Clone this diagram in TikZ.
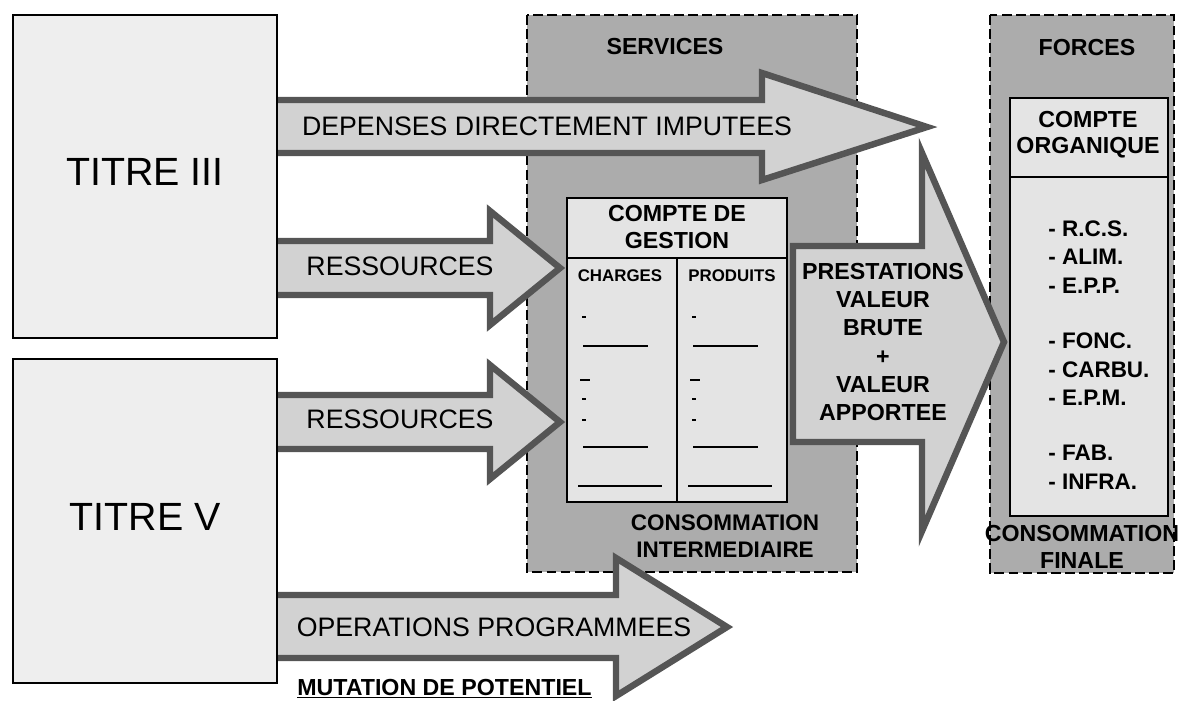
\documentclass[tikz,border=0pt]{standalone}
\usepackage{fontspec}
\setmainfont{Liberation Sans}
\definecolor{zonegray}{RGB}{172,172,172}
\definecolor{arrowgray}{RGB}{210,210,210}
\definecolor{edgegray}{RGB}{85,85,85}
\definecolor{titregray}{RGB}{238,238,238}
\definecolor{comptegray}{RGB}{228,228,228}
\usepackage{tikz}
\usetikzlibrary{positioning}

\begin{document}
\begin{tikzpicture}[
  x=0.025cm, y=-0.025cm,
  zone/.style={draw, dash pattern=on 7pt off 3pt, line width=0.9pt, fill=zonegray},
  bigarrow/.style={draw=edgegray, line width=4.6pt, fill=arrowgray, line join=miter},
  titrebox/.style={draw, line width=1.2pt, fill=titregray},
  comptebox/.style={draw, line width=1.4pt, fill=comptegray},
  arrowlabel/.style={font=\fontsize{19}{23}\selectfont, inner sep=0pt},
  boldlabel/.style={font=\fontsize{16.5}{19.5}\selectfont\bfseries, align=center, inner sep=0pt},
  itemlabel/.style={font=\fontsize{16}{20.3}\selectfont\bfseries, align=left, inner sep=0pt},
  ledger/.style={line width=0.9pt}
]
  \useasboundingbox (0,0) rectangle (1178,700);

  % services and forces zones
  \draw[zone] (527,15) rectangle (857,572);
  \draw[zone] (990,15) rectangle (1174,573);

  % flows
  \draw[bigarrow] (270,100) -- (762,100) -- (762,73) -- (927,127) -- (762,180) -- (762,153) -- (270,153) -- cycle;
  \draw[bigarrow] (270,241) -- (490,241) -- (490,211) -- (560,268) -- (490,325) -- (490,295) -- (270,295) -- cycle;
  \draw[bigarrow] (270,395) -- (490,395) -- (490,365) -- (560,422) -- (490,479) -- (490,449) -- (270,449) -- cycle;
  \draw[bigarrow] (270,595) -- (616,595) -- (616,558) -- (727,627) -- (616,696) -- (616,658) -- (270,658) -- cycle;
  \draw[bigarrow] (793,246) -- (922,246) -- (922,153) -- (1004,342) -- (922,531) -- (922,442) -- (793,442) -- cycle;

  % credits
  \draw[titrebox] (13,15) rectangle (277,338);
  \draw[titrebox] (13,359) rectangle (277,683);
  \node[font=\fontsize{28}{32}\selectfont, inner sep=0pt] (titre3) at (145,172) {TITRE III};
  \node[font=\fontsize{28}{32}\selectfont, inner sep=0pt] (titre5) at (145,517) {TITRE V};

  % compte de gestion
  \draw[comptebox] (567,198) rectangle (787,502);
  \draw[line width=1.4pt] (567,258) -- (787,258);
  \draw[line width=1.4pt] (677,258) -- (677,502);
  \node[boldlabel] (gestion) at (677,227) {COMPTE DE\\GESTION};
  \node[boldlabel, font=\fontsize{12}{14}\selectfont\bfseries] (charges) at (620,276) {CHARGES};
  \node[boldlabel, font=\fontsize{12}{14}\selectfont\bfseries] (produits) at (732,276) {PRODUITS};
  \foreach \dx in {0,110} {
    \draw[ledger] (582+\dx,317) -- ++(4,0);
    \draw[ledger] (583+\dx,346) -- ++(65,0);
    \draw[ledger] (580+\dx,380) -- ++(10,0);
    \draw[ledger] (582+\dx,399) -- ++(4,0);
    \draw[ledger] (582+\dx,420) -- ++(4,0);
    \draw[ledger] (583+\dx,447) -- ++(65,0);
    \draw[ledger] (578+\dx,486) -- ++(84,0);
  }

  % compte organique
  \draw[comptebox] (1010,98) rectangle (1168,516);
  \draw[line width=1.4pt] (1010,177) -- (1168,177);
  \node[boldlabel, font=\fontsize{16.5}{18.5}\selectfont\bfseries] (organique) at (1088,135) {COMPTE\\ORGANIQUE};
  \node[itemlabel, anchor=west] (postes) at (1048,355) {- R.C.S.\\- ALIM.\\- E.P.P.\\[19pt]- FONC.\\- CARBU.\\- E.P.M.\\[19pt]- FAB.\\- INFRA.};

  % labels
  \node[boldlabel] (services) at (665,47) {SERVICES};
  \node[boldlabel] (forces) at (1087,48) {FORCES};
  \node[arrowlabel] (depenses) at (547,126) {DEPENSES DIRECTEMENT IMPUTEES};
  \node[arrowlabel] (ressources1) at (400,266) {RESSOURCES};
  \node[arrowlabel] (ressources2) at (400,419) {RESSOURCES};
  \node[arrowlabel] (operations) at (494,627) {OPERATIONS PROGRAMMEES};
  \node[boldlabel, font=\fontsize{16.5}{20.1}\selectfont\bfseries] (prestations) at (883,342) {PRESTATIONS\\VALEUR\\BRUTE\\+\\VALEUR\\APPORTEE};
  \node[boldlabel, font=\fontsize{16}{19.2}\selectfont\bfseries] (intermediaire) at (725,536) {CONSOMMATION\\INTERMEDIAIRE};
  \node[boldlabel, font=\fontsize{16.5}{19.2}\selectfont\bfseries] (finale) at (1082,547) {CONSOMMATION\\FINALE};
  \node[font=\fontsize{16.5}{20}\selectfont\bfseries, inner sep=0pt, anchor=base west] (mutation) at (297,695) {\underline{MUTATION DE POTENTIEL}};
\end{tikzpicture}
\end{document}
